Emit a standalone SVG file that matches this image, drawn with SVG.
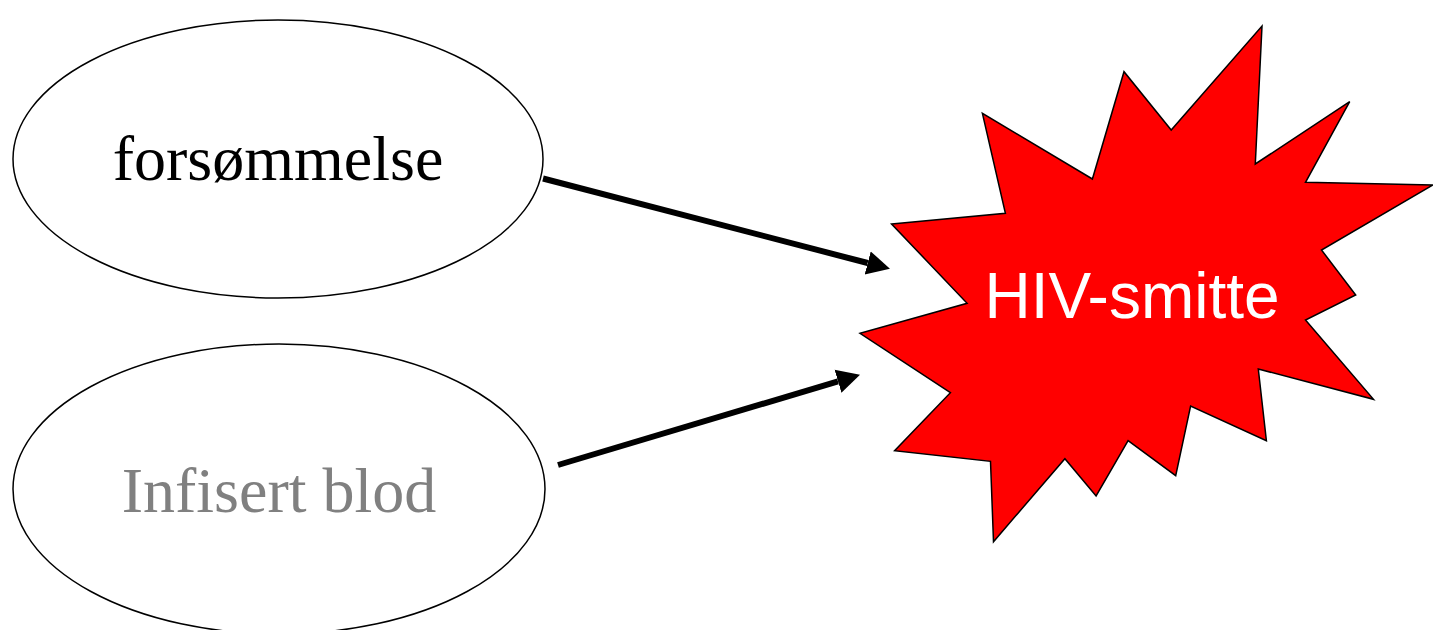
<svg xmlns="http://www.w3.org/2000/svg" width="1433" height="630" viewBox="0 0 1433 630">
<style>
.ell{fill:#fff;stroke:#000;stroke-width:1.5}
.conn{stroke:#000;stroke-width:6;fill:none}
.serif{font-family:"Liberation Serif","Times New Roman",serif;font-size:64px;text-anchor:middle}
</style>
<defs>
<marker id="ah" markerUnits="userSpaceOnUse" markerWidth="24" markerHeight="26" refX="0" refY="0" viewBox="0 -13 24 26" orient="auto">
<path d="M0,-12 L23,0 L0,12 z" fill="#000"/>
</marker>
</defs>
<rect width="1433" height="630" fill="#fff"/>
<g id="node-forsommelse">
<ellipse class="ell" cx="278" cy="159" rx="265" ry="139"/>
<text class="serif" x="278" y="180" fill="#000">forsømmelse</text>
</g>
<g id="node-infisert">
<ellipse class="ell" cx="279" cy="489" rx="266" ry="145"/>
<text class="serif" x="279" y="512" fill="#808080">Infisert blod</text>
</g>
<g id="node-hiv">
<polygon points="891.6,224 1005.4,213.3 982.4,113.3 1092.4,179 1124,71.7 1171.2,130 1262,26 1255.3,164 1349.7,101.7 1305.5,182.3 1433,185 1321.5,250 1355.7,295 1305.5,320 1373.5,399.3 1258.3,369 1266.4,440.7 1190.6,406 1175.7,475.7 1128.1,440.7 1096.1,496 1064.9,458.7 993.5,541.7 990.5,461.3 894.6,450.7 950.4,392.7 860,333.3 967.1,303.3" fill="#ff0000" stroke="#000" stroke-width="1.5" stroke-linejoin="miter"/>
<text x="1132" y="318" fill="#fff" font-family="Liberation Sans,Arial,sans-serif" font-size="64" text-anchor="middle">HIV-smitte</text>
</g>
<g id="connectors">
<line class="conn" x1="543" y1="178.5" x2="867.7" y2="263" marker-end="url(#ah)"/>
<line class="conn" x1="558" y1="465" x2="838" y2="381.3" marker-end="url(#ah)"/>
</g>
</svg>
